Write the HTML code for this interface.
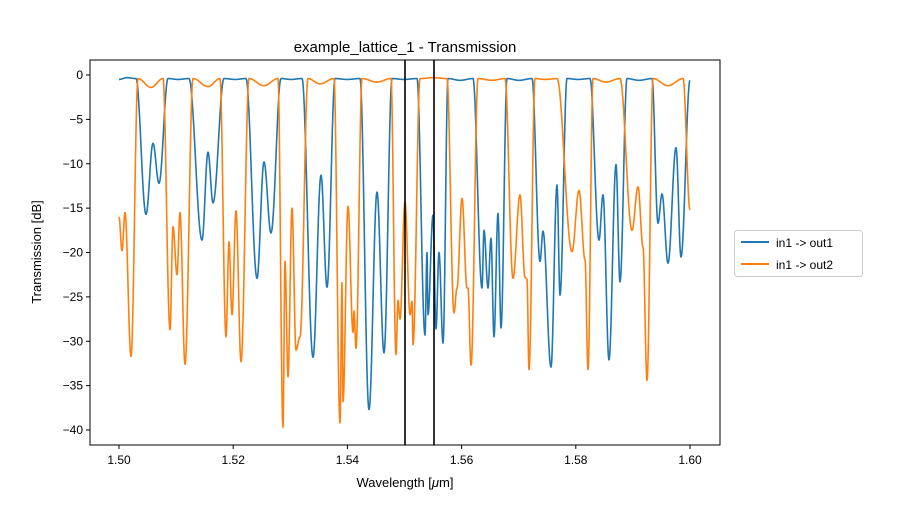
<!DOCTYPE html>
<html><head><meta charset="utf-8"><style>
body{margin:0;background:#fff;}
svg text{font-family:"Liberation Sans",sans-serif;}
</style></head><body>
<svg id="s" width="900" height="500" xmlns="http://www.w3.org/2000/svg">
<rect width="900" height="500" fill="#fff"/>
<text x="405" y="52" font-size="15" text-anchor="middle">example_lattice_1 - Transmission</text>
<g id="plot"></g>
<line x1="405" y1="60" x2="405" y2="445" stroke="#000" stroke-width="1.6"/>
<line x1="434" y1="60" x2="434" y2="445" stroke="#000" stroke-width="1.6"/>
<rect x="90" y="60" width="630" height="385" fill="none" stroke="#000" stroke-width="1"/>
<g id="ticks" font-size="12"></g>
<text x="405" y="487" font-size="13" text-anchor="middle">Wavelength [<tspan font-style="italic">μ</tspan>m]</text>
<text transform="translate(41,252) rotate(-90)" font-size="13" text-anchor="middle">Transmission [dB]</text>
<rect x="734.5" y="230.5" width="128" height="46" rx="3" fill="#fff" stroke="#ccc"/>
<line x1="741" y1="242" x2="769" y2="242" stroke="#1f77b4" stroke-width="2"/>
<line x1="741" y1="264" x2="769" y2="264" stroke="#ff7f0e" stroke-width="2"/>
<text x="776" y="247" font-size="12">in1 -&gt; out1</text>
<text x="776" y="269" font-size="12">in1 -&gt; out2</text>
</svg>
<script>
var NS="http://www.w3.org/2000/svg";
function el(t,a,p){var e=document.createElementNS(NS,t);for(var k in a)e.setAttribute(k,a[k]);p.appendChild(e);return e;}
var tk=document.getElementById('ticks');
for(var i=0;i<=5;i++){var x=119+i*114.2;el('line',{x1:x,y1:445,x2:x,y2:449,stroke:'#000'},tk);
var t=el('text',{x:x,y:464,'text-anchor':'middle'},tk);t.textContent=(1.5+i*0.02).toFixed(2);}
for(var v=0;v>=-40;v-=5){var y=75-8.875*v;el('line',{x1:86,y1:y,x2:90,y2:y,stroke:'#000'},tk);
var t=el('text',{x:83,y:y+4,'text-anchor':'end'},tk);t.textContent=(v==0?'0':'\u2212'+(-v));}
var T=-0.4;
var B=[[119,-0.5],[127,-0.3],[136,T],[146,-15.7],[153,-7.7],[159,-12.2],[168,T],[178,-0.5],[189,T],[202,-18.6],[208,-8.7],[213,-14.4],[224,T],[235,-0.5],[246,T],[257,-22.9],[264,-9.8],[271,-17.8],[281,T],[291,-0.5],[302,T],[313,-31.8],[321,-11.3],[327,-23.9],[335,T],[347,-0.5],[360,T],[369,-37.7],[377,-13.2],[384,-31.3],[392,T],[404,-0.5],[417,T],[425,-29.3],[427,-20],[428,-27],[433,-15.8],[436,-28.6],[439,-20],[443,-30.2],[448,T],[460,-0.6],[473,T],[482,-24],[484,-17.5],[488,-24],[491,-18.4],[494,-29.5],[498,-15.6],[501,-28.5],[507,T],[519,-0.6],[532,T],[540,-21],[543,-17.6],[551,-32.9],[557,-12.4],[560,-24.8],[567,T],[578,-0.5],[590,T],[599,-18.6],[603,-13.5],[609,-32.1],[616,-10.1],[620,-23.3],[627,T],[639,-0.6],[652,T],[658,-16.7],[662,-13.4],[668,-21.2],[676,-8.2],[681,-20.5],[690,-0.6]];
var O=[[119,-16],[122,-19.8],[125,-15.5],[131,-31.7],[138,T],[151,-1.4],[163,T],[170,-28.7],[173,-17.1],[177,-22.5],[180,-15.5],[185,-32.6],[193,T],[208,-1.3],[220,T],[226,-29.5],[229,-18.8],[232,-27],[236,-15.3],[241,-32.3],[249,T],[264,-1.2],[278,T],[283,-39.7],[285,-21],[288,-34],[292,-15],[296,-31],[300,-29.5],[308,T],[320,-1.0],[334,T],[340,-39.2],[342,-23.4],[343,-36.8],[348,-14.8],[353,-29],[354,-26.6],[356,-30.8],[362,T],[377,-0.8],[391,T],[396,-31.5],[398,-25.4],[400,-27.5],[405,-14.3],[410,-27],[412,-25.5],[413,-30.4],[420,T],[433,-0.3],[447,T],[454,-26.8],[457,-24],[462,-13.9],[467,-24],[468,-24],[471,-32.7],[478,T],[492,-0.6],[505,T],[513,-22.9],[520,-13.5],[525,-22.8],[527,-23],[529,-33.2],[535,T],[545,-0.5],[557,T],[572,-19.9],[579,-13],[585,-20.8],[588,-33.2],[593,T],[606,-0.8],[620,T],[632,-17.5],[638,-12.6],[643,-19.4],[647,-34.4],[653,T],[668,-1.2],[683,T],[690,-15.2]];
var p=document.getElementById('plot');
function path(P,c){var d='M'+P[0][0]+','+(75-8.875*P[0][1]).toFixed(2);
for(var i=1;i<P.length;i++){var a=P[i-1],b=P[i];var n=Math.max(2,Math.round((b[0]-a[0])*4));
for(var k=1;k<=n;k++){var t=k/n,m=(1-Math.cos(Math.PI*t))/2;var x=a[0]+(b[0]-a[0])*t,y=a[1]+(b[1]-a[1])*m;
d+='L'+x.toFixed(2)+','+(75-8.875*y).toFixed(2);}}
el('path',{d:d,fill:'none',stroke:c,'stroke-width':1.6,'stroke-linejoin':'round'},p);}
path(B,'#1f77b4');path(O,'#ff7f0e');
</script>
</body></html>
